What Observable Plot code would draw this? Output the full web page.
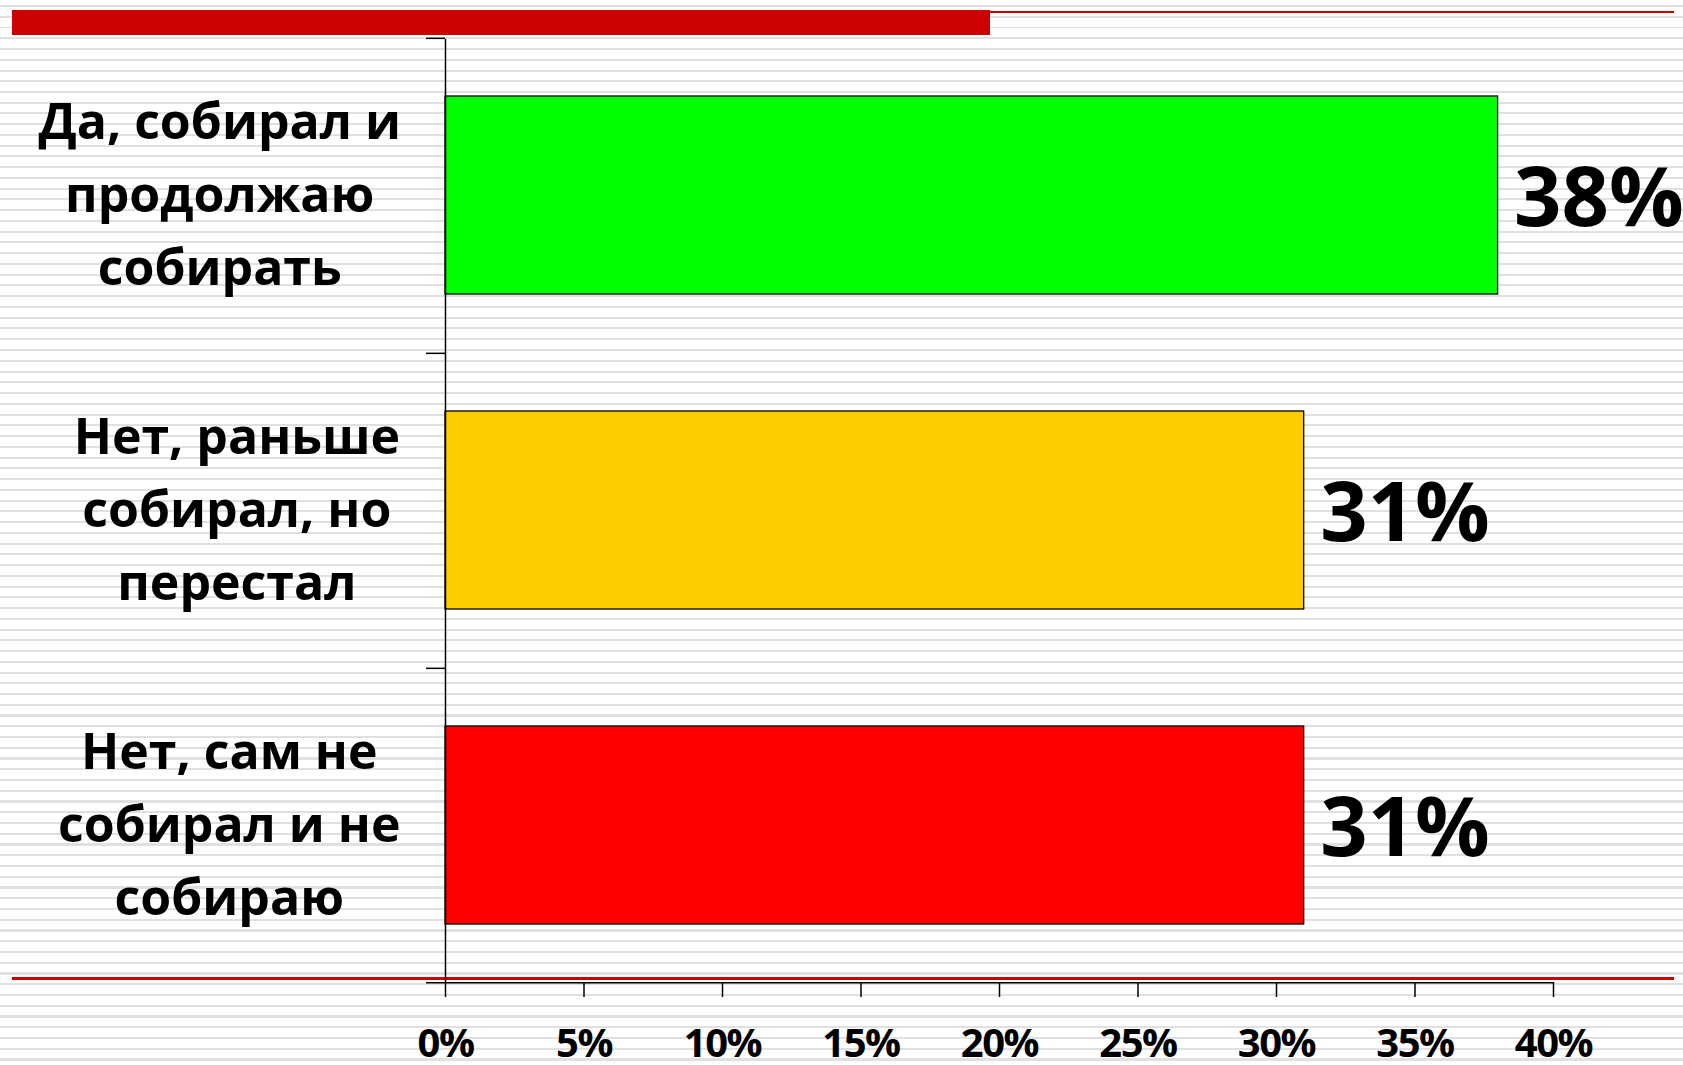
<!DOCTYPE html>
<html>
<head>
<meta charset="utf-8">
<script src="https://cdn.jsdelivr.net/npm/d3@7"></script>
<script src="https://cdn.jsdelivr.net/npm/@observablehq/plot@0.6"></script>
<style>
  html, body { margin: 0; padding: 0; }
  body {
    width: 1683px; height: 1065px; overflow: hidden;
    background: repeating-linear-gradient(to bottom,
      #ffffff 0px, #ffffff 5px, #e0e0e0 5px, #e0e0e0 7px, #ffffff 7px, #ffffff 10.75px);
    font-family: "Open Sans", sans-serif;
  }
  #wrap { position: relative; width: 1683px; height: 1065px; }
  .deco { position: absolute; background: #CC0000; }
  #chart { position: absolute; left: 0; top: 0; }
  g[aria-label="category label"] text { letter-spacing: -1px; }
  g[aria-label="value label"] text { letter-spacing: -4.5px; }
  g[aria-label="x-axis tick label"] text { letter-spacing: -1.5px; }
</style>
</head>
<body>
<div id="wrap">
  <div class="deco" style="left:12px; top:10px; width:978px; height:25px;"></div>
  <div class="deco" style="left:990px; top:11px; width:684px; height:2px;"></div>
  <div class="deco" style="left:12px; top:977px; width:1662px; height:2.5px;"></div>
  <div id="chart"></div>
</div>
<script>
// ---- data ----
const categories = [
  "Да, собирал и\nпродолжаю\nсобирать",
  "Нет, раньше\nсобирал, но\nперестал",
  "Нет, сам не\nсобирал и не\nсобираю"
];
const values = [38, 31, 31];
const colors = ["#00FF00", "#FFCC00", "#FF0000"];
const xTicks = [0, 5, 10, 15, 20, 25, 30, 35, 40];

const table = categories.map((c, i) => ({cat: c, value: values[i], color: colors[i]}));

// ---- layout ----
const W = 1683, H = 1065;
const mTop = 39, mBottom = 83, mLeft = 445, mRight = 130;
const step = (H - mTop - mBottom) / categories.length;
const font = "'Open Sans', sans-serif";
const catSize = 50;
const catSpacing = -1;

// measure widest line of each category label to right-align blocks of centred lines
const ctx = document.createElement("canvas").getContext("2d");
ctx.font = `bold ${catSize}px 'Open Sans'`;
const labelRight = 394;
const catDx = categories.map(c => {
  const w = d3.max(c.split("\n"), s => ctx.measureText(s).width + catSpacing * s.length);
  return (labelRight - w / 2) - mLeft;
});

const chart = Plot.plot({
  width: W,
  height: H,
  marginTop: mTop,
  marginBottom: mBottom,
  marginLeft: mLeft,
  marginRight: mRight,
  style: {background: "transparent", fontFamily: font, color: "black"},
  x: {domain: [0, 40], axis: null},
  y: {domain: categories, axis: null, paddingInner: 0.37, paddingOuter: 0.18},
  marks: [
    Plot.barX(table, {x: "value", y: "cat", fill: "color", stroke: "black", strokeWidth: 1.3}),
    Plot.ruleX([0], {stroke: "black", strokeWidth: 1.5}),
    Plot.ruleY(categories, {y: d => d, x1: 0, x2: 0, insetLeft: -19, dy: -step / 2, stroke: "black", strokeWidth: 1.5}),
    Plot.ruleY([categories[categories.length - 1]], {y: d => d, x1: 0, x2: 40, insetLeft: -19, dy: step / 2, stroke: "black", strokeWidth: 1.5}),
    Plot.axisX({
      ticks: xTicks,
      tickFormat: d => d + "%",
      tickSize: 15,
      tickPadding: 31,
      fontSize: 40,
      fontWeight: "bold",
      fill: "black",
      stroke: "black",
      strokeWidth: 1.5,
      label: null
    }),
    Plot.text(table, {
      x: "value", y: "cat", text: d => d.value + "%",
      textAnchor: "start", dx: 16, dy: 4, lineAnchor: "middle",
      fontSize: 83, fontWeight: "bold", fill: "black",
      ariaLabel: "value label"
    }),
    ...table.map((d, i) => Plot.text([d], {
      x: 0, y: "cat", text: "cat",
      textAnchor: "middle", lineAnchor: "middle", lineHeight: 1.46,
      dx: catDx[i], dy: -7,
      fontSize: catSize, fontWeight: "bold", fill: "black",
      ariaLabel: "category label"
    }))
  ]
});
document.getElementById("chart").appendChild(chart);
</script>
</body>
</html>
